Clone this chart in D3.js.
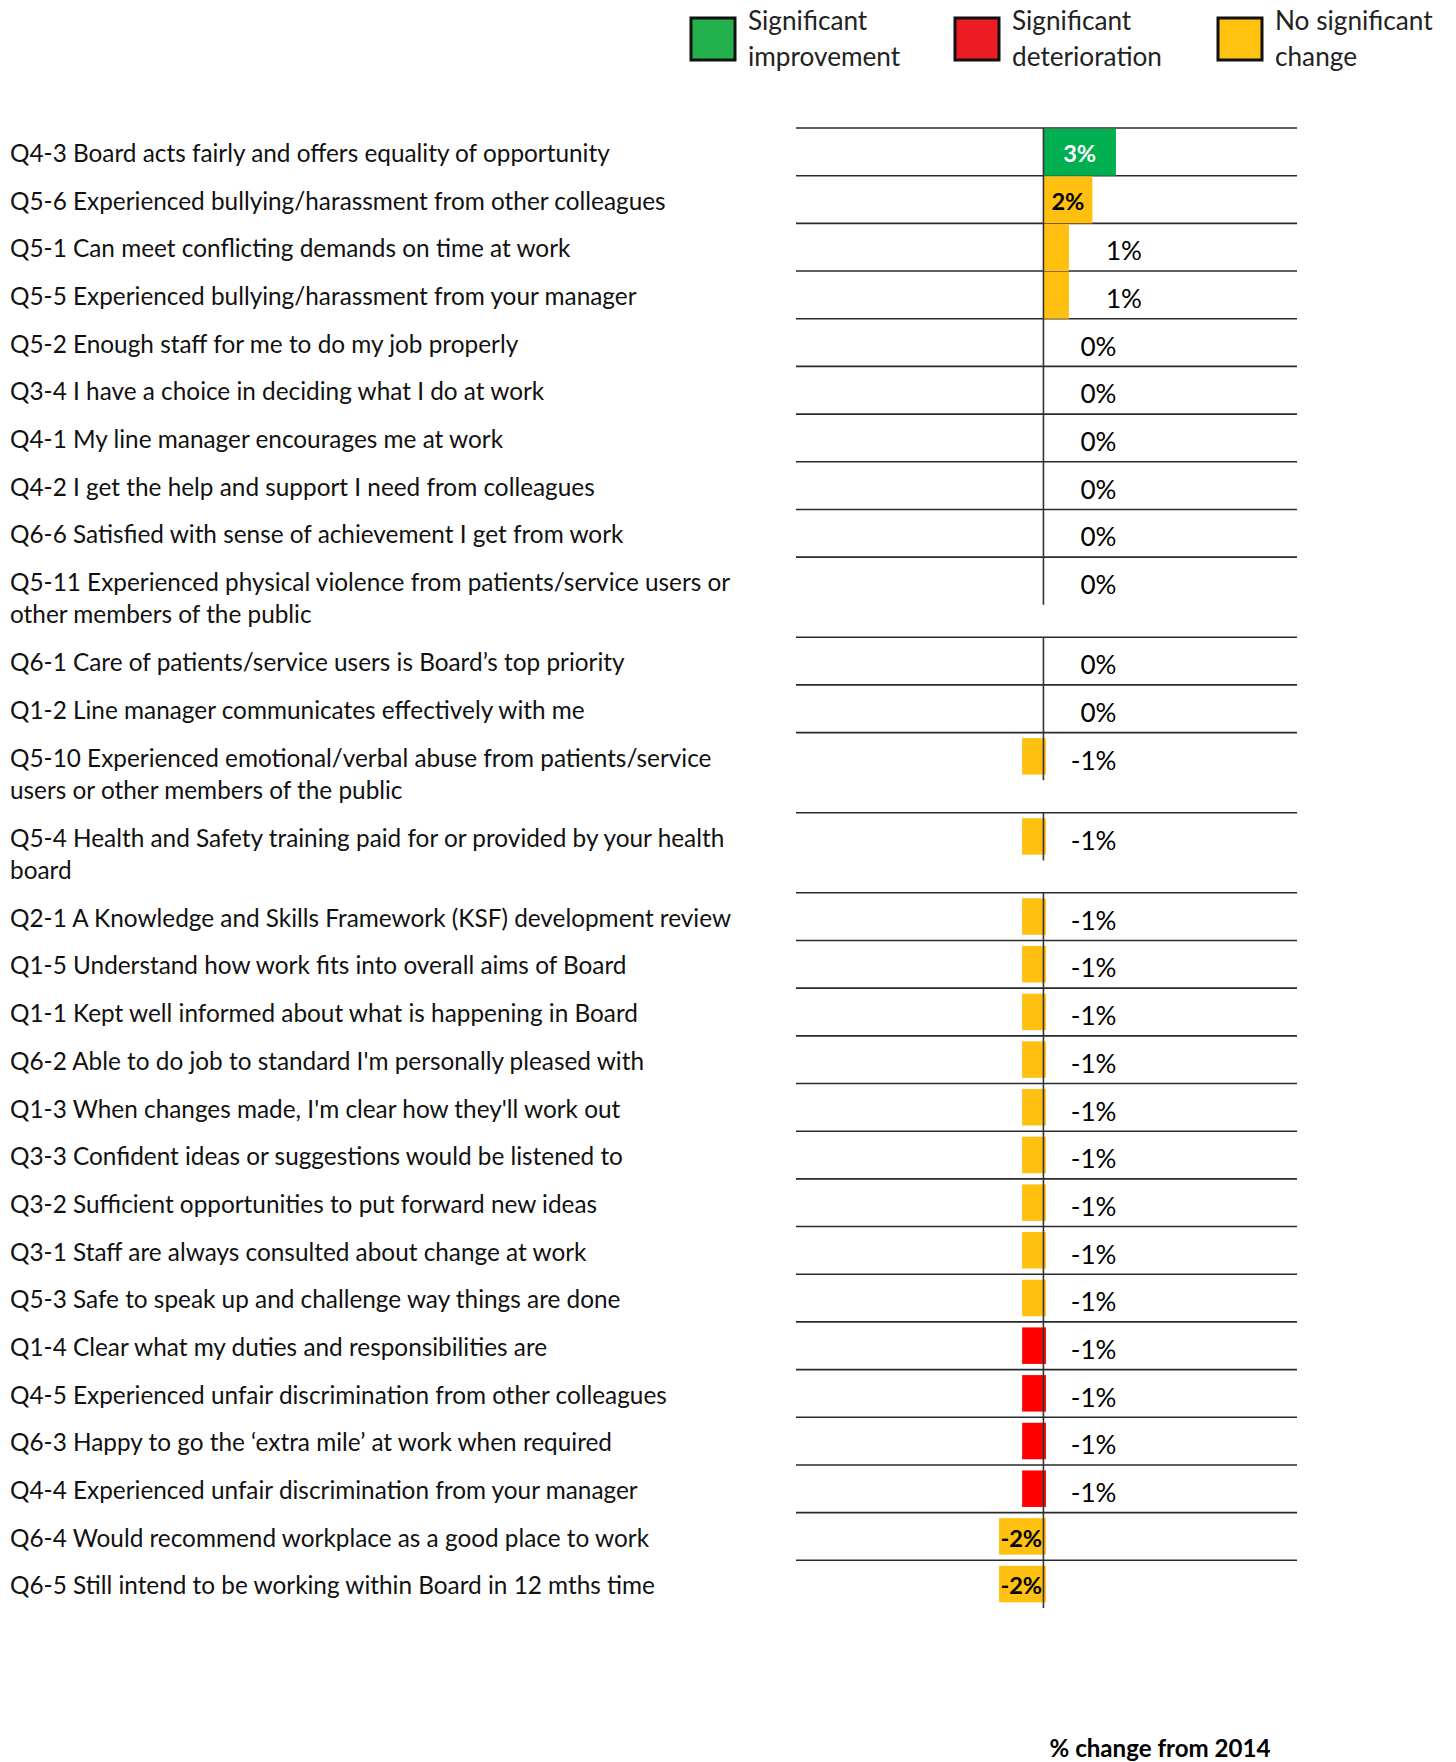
<!DOCTYPE html>
<html>
<head>
<meta charset="utf-8">
<script src="https://cdnjs.cloudflare.com/ajax/libs/d3/7.8.5/d3.min.js"></script>
<style>
  html, body { margin: 0; padding: 0; background: #fff; }
  svg { display: block; }
  text { font-family: Lato, "Open Sans", sans-serif; }
</style>
</head>
<body>
<svg id="chart" width="1456" height="1762"></svg>
<script>
// ---------- data ----------
const categories = [
  "Q4-3 Board acts fairly and offers equality of opportunity",
  "Q5-6 Experienced bullying/harassment from other colleagues",
  "Q5-1 Can meet conflicting demands on time at work",
  "Q5-5 Experienced bullying/harassment from your manager",
  "Q5-2 Enough staff for me to do my job properly",
  "Q3-4 I have a choice in deciding what I do at work",
  "Q4-1 My line manager encourages me at work",
  "Q4-2 I get the help and support I need from colleagues",
  "Q6-6 Satisfied with sense of achievement I get from work",
  "Q5-11 Experienced physical violence from patients/service users or|other members of the public",
  "Q6-1 Care of patients/service users is Board\u2019s top priority",
  "Q1-2 Line manager communicates effectively with me",
  "Q5-10 Experienced emotional/verbal abuse from patients/service|users or other members of the public",
  "Q5-4 Health and Safety training paid for or provided by your health|board",
  "Q2-1 A Knowledge and Skills Framework (KSF) development review",
  "Q1-5 Understand how work fits into overall aims of Board",
  "Q1-1 Kept well informed about what is happening in Board",
  "Q6-2 Able to do job to standard I'm personally pleased with",
  "Q1-3 When changes made, I'm clear how they'll work out",
  "Q3-3 Confident ideas or suggestions would be listened to",
  "Q3-2 Sufficient opportunities to put forward new ideas",
  "Q3-1 Staff are always consulted about change at work",
  "Q5-3 Safe to speak up and challenge way things are done",
  "Q1-4 Clear what my duties and responsibilities are",
  "Q4-5 Experienced unfair discrimination from other colleagues",
  "Q6-3 Happy to go the \u2018extra mile\u2019 at work when required",
  "Q4-4 Experienced unfair discrimination from your manager",
  "Q6-4 Would recommend workplace as a good place to work",
  "Q6-5 Still intend to be working within Board in 12 mths time"
];
const changeValues = [
  2.96, 2.0, 1.04, 1.04, 0, 0, 0, 0, 0, 0, 0, 0,
  -0.87, -0.87, -0.87, -0.87, -0.87, -0.87, -0.87, -0.87, -0.87, -0.87, -0.87,
  -0.87, -0.87, -0.87, -0.87, -1.81, -1.81
];
const status = [
  "imp", "none", "none", "none", "none", "none", "none", "none", "none", "none", "none", "none",
  "none", "none", "none", "none", "none", "none", "none", "none", "none", "none", "none",
  "det", "det", "det", "det", "none", "none"
];
const legendKeys = ["imp", "det", "none"];
const legendLabels = [["Significant", "improvement"], ["Significant", "deterioration"], ["No significant", "change"]];
const axisTitle = "% change from 2014";

// ---------- styles ----------
const barColor = { imp: "#00B050", det: "#FF0000", none: "#FFC010" };
const legendColor = { imp: "#22B14C", det: "#ED1C24", none: "#FFC20E" };

const svg = d3.select("#chart");

// measuring helper: find font size giving target width
const meas = svg.append("text").attr("x", -9999).attr("y", -9999);
function fitSize(str, weight, target, base) {
  meas.attr("font-weight", weight).attr("font-size", base).text(str);
  const w = meas.node().getComputedTextLength();
  return base * target / w;
}
const labelFS = fitSize(categories[0], 400, 600, 24);
const valFS = fitSize("0%", 400, 36, 28);
const boldFS = fitSize("3%", 700, 33, 26);
const legFS = fitSize("deterioration", 400, 150, 29);
const titleFS = fitSize(axisTitle, 700, 221, 26);
meas.remove();

// ---------- layout through scales ----------
const units = categories.map(c => c.split("|").length > 1 ? 1.68 : 1);
const starts = [];
units.reduce((acc, u, i) => { starts[i] = acc; return acc + u; }, 0);
const totalUnits = d3.sum(units);
const y = d3.scaleLinear().domain([0, totalUnits]).range([128, 1608]);
const unitH = y(1) - y(0);
const x = d3.scaleLinear().domain([-10.1, 10.35]).range([796, 1297]);

const rows = categories.map((c, i) => ({
  lines: c.split("|"), v: changeValues[i], s: status[i], top: y(starts[i])
}));

// horizontal row lines
svg.append("g").selectAll("line").data(rows).join("line")
  .attr("x1", x.range()[0]).attr("x2", x.range()[1])
  .attr("y1", d => d.top).attr("y2", d => d.top)
  .attr("stroke", "#2a2a2a").attr("stroke-width", 1.6);

// bars
svg.append("g").selectAll("rect").data(rows).join("rect")
  .attr("x", d => d.v >= 0 ? x(0) : x(d.v))
  .attr("width", d => d.v >= 0 ? x(d.v) - x(0) : x(0) - x(d.v) + 2.5)
  .attr("y", d => d.v >= 0 ? d.top + 0.8 : d.top + 5.5)
  .attr("height", d => d.v >= 0 ? unitH - 0.8 : 36.5)
  .attr("fill", d => barColor[d.s]);

// zero line segments (one per row)
svg.append("g").selectAll("line").data(rows).join("line")
  .attr("x1", x(0)).attr("x2", x(0))
  .attr("y1", d => d.top).attr("y2", d => d.top + unitH)
  .attr("stroke", "#333").attr("stroke-width", 1.6);

// category labels
const lab = svg.append("g").selectAll("text").data(rows).join("text")
  .attr("x", 10)
  .attr("y", d => d.top + 34)
  .attr("font-size", labelFS)
  .attr("fill", "#111");
lab.selectAll("tspan").data(d => d.lines).join("tspan")
  .attr("x", 10)
  .attr("dy", (d, i) => i === 0 ? 0 : 32)
  .text(d => d);

// value labels
const fmt = v => Math.round(v) + "%";
const inside = d => Math.abs(d.v) >= 1.5;
svg.append("g").selectAll("text").data(rows).join("text")
  .attr("x", d => inside(d) ? (x(0) + x(d.v)) / 2 : x(Math.max(d.v, 0)) + 73)
  .attr("y", d => d.top + (inside(d) ? 34 : 37))
  .attr("text-anchor", d => inside(d) ? "middle" : "end")
  .attr("font-weight", d => inside(d) ? 700 : 400)
  .attr("font-size", d => inside(d) ? boldFS : valFS)
  .attr("fill", d => d.s === "imp" ? "#fff" : "#000")
  .text(d => fmt(d.v));

// legend
const legX = [691, 955, 1218];
const leg = svg.append("g").selectAll("g").data(legendKeys).join("g")
  .attr("transform", (d, i) => `translate(${legX[i]},0)`);
leg.append("rect")
  .attr("x", 0).attr("y", 18).attr("width", 44).attr("height", 42)
  .attr("fill", d => legendColor[d]).attr("stroke", "#111").attr("stroke-width", 3);
leg.append("text")
  .attr("x", 57).attr("y", 30)
  .attr("font-size", legFS).attr("fill", "#222")
  .selectAll("tspan").data((d, i) => legendLabels[i]).join("tspan")
  .attr("x", 57).attr("dy", (d, i) => i === 0 ? 0 : 36)
  .text(d => d);

// axis title
svg.append("text")
  .attr("x", 1160).attr("y", 1757)
  .attr("text-anchor", "middle")
  .attr("font-weight", 700).attr("font-size", titleFS).attr("fill", "#000")
  .text(axisTitle);
</script>
</body>
</html>
